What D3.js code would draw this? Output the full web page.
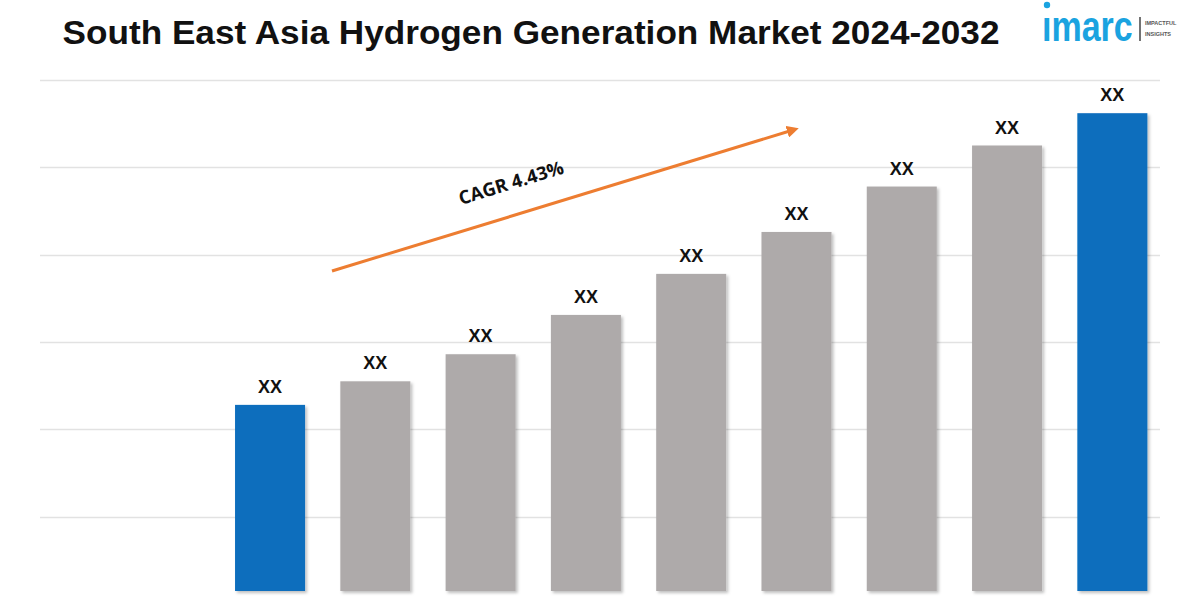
<!DOCTYPE html>
<html><head><meta charset="utf-8">
<script src="https://cdn.jsdelivr.net/npm/d3@7"></script>
<style>body{margin:0;background:#fff}svg{display:block}</style>
</head><body>
<svg id="c" width="1200" height="600"></svg>
<script>
const categories = ["2024","2025","2026","2027","2028","2029","2030","2031","2032"];
const values = [2.28, 2.55, 2.86, 3.31, 3.78, 4.26, 4.78, 5.25, 5.62];
const labels = ["XX","XX","XX","XX","XX","XX","XX","XX","XX"];
const gridTicks = [1,2,3,4,5,6];
const highlight = ["2024","2032"];
const cagrText = "CAGR 4.43%";
const title = "South East Asia Hydrogen Generation Market 2024-2032";

const svg = d3.select("#c");
const defs = svg.append("defs");
const f = defs.append("filter").attr("id","sh").attr("x","-10%").attr("y","-10%").attr("width","130%").attr("height","130%");
f.append("feDropShadow").attr("dx",2).attr("dy",2).attr("stdDeviation",1.5).attr("flood-color","#000").attr("flood-opacity",0.25);
const m = defs.append("marker").attr("id","ah").attr("viewBox","0 0 10 10").attr("refX",5).attr("refY",5)
  .attr("markerWidth",4).attr("markerHeight",4).attr("orient","auto");
m.append("path").attr("d","M0,0L10,5L0,10z").attr("fill","#ED7D31");

const bottom = 591;
const x = d3.scaleBand().domain(categories).range([217.4, 1165]).paddingInner(0.335).paddingOuter(0.1675);
const y = d3.scaleLinear().domain([0,6]).range([604, 80]);

// gridlines
svg.append("g").selectAll("line").data(gridTicks).join("line")
  .attr("x1",40).attr("x2",1160).attr("y1",d=>Math.round(y(d))+0.5).attr("y2",d=>Math.round(y(d))+0.5)
  .attr("stroke","#e2e2e2").attr("stroke-width",1.5);

// bars
svg.append("g").selectAll("rect").data(categories).join("rect")
  .attr("x",d=>x(d)).attr("width",x.bandwidth())
  .attr("y",(d,i)=>y(values[i])).attr("height",(d,i)=>bottom - y(values[i]))
  .attr("fill",d=>highlight.includes(d)?"#0A6EBD":"#AEAAAA")
  .attr("filter","url(#sh)");

// value labels
svg.append("g").selectAll("text").data(categories).join("text")
  .attr("x",d=>x(d)+x.bandwidth()/2).attr("y",(d,i)=>y(values[i])-12)
  .attr("text-anchor","middle").attr("font-family","Liberation Sans, Arial, sans-serif")
  .attr("font-weight","bold").attr("font-size",18).attr("fill","#111")
  .text((d,i)=>labels[i]);

// CAGR arrow
svg.append("line").attr("x1",332).attr("y1",271).attr("x2",793).attr("y2",130)
  .attr("stroke","#ED7D31").attr("stroke-width",3).attr("marker-end","url(#ah)");
svg.append("text").attr("transform","translate(513,189) rotate(-17)")
  .attr("text-anchor","middle").attr("font-family","Open Sans, sans-serif").attr("font-weight","bold")
  .attr("font-size",18.5).attr("fill","#111").text(cagrText);

// title
svg.append("text").attr("x",531).attr("y",44).attr("text-anchor","middle")
  .attr("font-family","Liberation Sans, Arial, sans-serif").attr("font-weight","bold")
  .attr("font-size",34).attr("textLength",937).attr("lengthAdjust","spacingAndGlyphs")
  .attr("fill","#111").text(title);

// logo
const lg = svg.append("g");
lg.append("circle").attr("cx",1047).attr("cy",5).attr("r",3.2).attr("fill","#1AA3E0");
lg.append("text").attr("transform","translate(1042,41) scale(1,1.25)").attr("font-family","Liberation Sans, Arial, sans-serif")
  .attr("font-size",34).attr("font-weight","bold").attr("fill","#1AA3E0").text("ımarc");
lg.append("line").attr("x1",1140).attr("x2",1140).attr("y1",17).attr("y2",41).attr("stroke","#444").attr("stroke-width",1.5);
lg.append("text").attr("x",1145).attr("y",25).attr("font-family","Liberation Sans, Arial, sans-serif").attr("font-size",5.5).attr("font-weight","bold").attr("fill","#555").text("IMPACTFUL");
lg.append("text").attr("x",1145).attr("y",36).attr("font-family","Liberation Sans, Arial, sans-serif").attr("font-size",5.5).attr("font-weight","bold").attr("fill","#555").text("INSIGHTS");
</script>
</body></html>
